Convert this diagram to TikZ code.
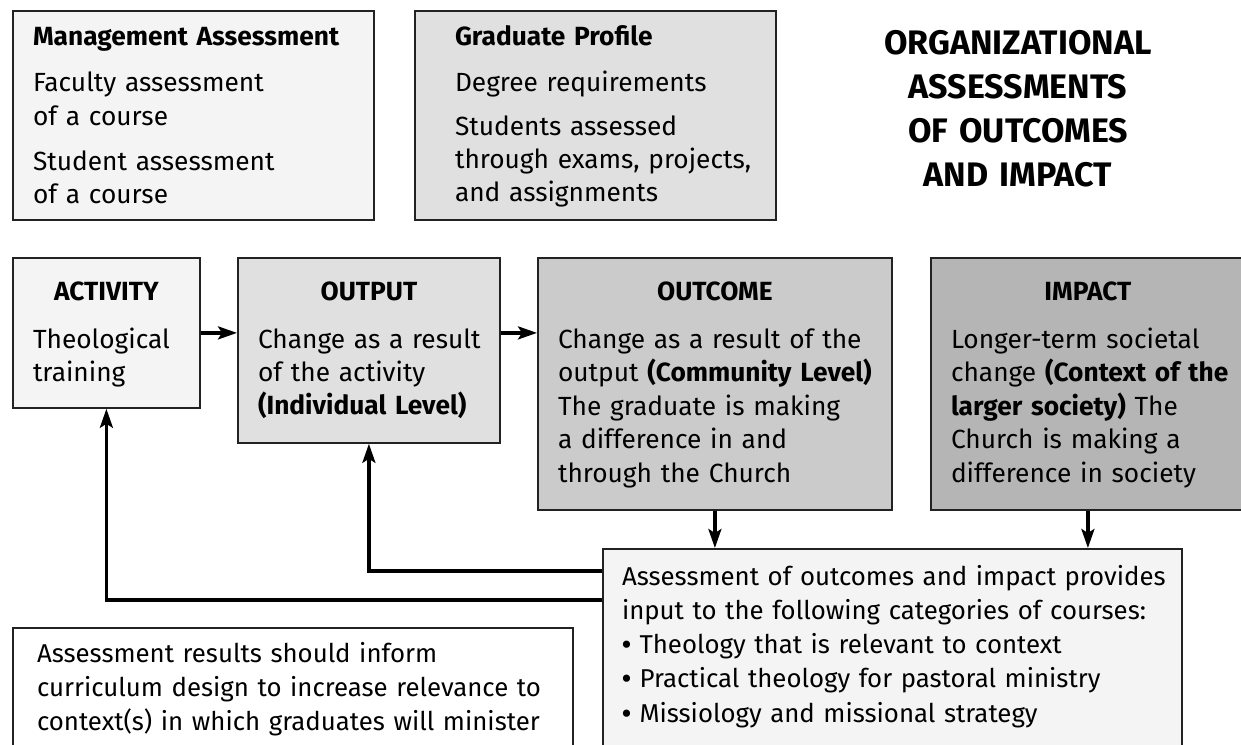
\documentclass[tikz,border=0pt]{standalone}
\usepackage{fontspec}
\setmainfont{Fira Sans}
\usetikzlibrary{arrows.meta}
\definecolor{fillA}{HTML}{F3F4F3}
\definecolor{fillB}{HTML}{E0E0E0}
\definecolor{fillC}{HTML}{CBCBCB}
\definecolor{fillD}{HTML}{B5B5B5}
\definecolor{edge}{HTML}{222222}
\tikzset{
  box/.style={draw=edge, line width=1.8pt, rectangle, inner sep=0pt, anchor=north west},
  txt/.style={anchor=base west, inner sep=0pt, outer sep=0pt, text width=600pt, align=left,
              font=\fontsize{26.3}{33}\selectfont},
  head/.style={anchor=base, inner sep=0pt, font=\fontsize{26.3}{33}\selectfont\bfseries},
  title/.style={anchor=base, inner sep=0pt, text width=500pt, align=center,
                font=\fontsize{34}{44}\selectfont\bfseries},
  conn/.style={draw=black, line width=3.2pt},
  arr/.style={conn, -{Stealth[length=19pt,width=13pt,inset=4pt]}},
}
\begin{document}
\begin{tikzpicture}[x=1pt,y=-1pt]
\useasboundingbox[fill=white] (0,0) rectangle (1241,744);

% top boxes
\node[box, fill=fillA, minimum width=361pt, minimum height=209pt] (mgmt) at (12,10) {};
\node[txt] (mgmtt) at (33,45) {\textbf{Management Assessment}\\[14pt]
Faculty assessment\\ of a course\\[12pt]
Student assessment\\ of a course};

\node[box, fill=fillB, minimum width=361pt, minimum height=209pt] (grad) at (414,10) {};
\node[txt] (gradt) at (455,45) {\textbf{Graduate Profile}\\[14pt]
Degree requirements\\[10pt]
Students assessed\\ through exams, projects,\\ and assignments};

\node[title] (ttl) at (1018,54) {ORGANIZATIONAL\\ ASSESSMENTS\\ OF OUTCOMES\\ AND IMPACT};

% main row
\node[box, fill=fillA, minimum width=187pt, minimum height=150pt] (activity) at (12,257) {};
\node[box, fill=fillB, minimum width=262pt, minimum height=185pt] (output) at (237,257) {};
\node[box, fill=fillC, minimum width=354pt, minimum height=252pt] (outcome) at (537,257) {};
\node[box, fill=fillD, minimum width=314pt, minimum height=252pt] (impact) at (930,257) {};

\node[head] (acth) at (activity.north |- 0,300) {ACTIVITY};
\node[head] (outh) at (output.north |- 0,300) {OUTPUT};
\node[head] (ocoh) at (outcome.north |- 0,300) {OUTCOME};
\node[head] (imph) at (impact.north |- 0,300) {IMPACT};

\node[txt] (actt) at (33,348) {Theological\\ training};
\node[txt] (outt) at (258,348) {Change as a result\\ of the activity\\ \textbf{(Individual Level)}};
\node[txt, font=\fontsize{26.3}{33.5}\selectfont] (ocot) at (558,348) {Change as a result of the\\ output \textbf{(Community Level)}\\ The graduate is making\\ a difference in and\\ through the Church};
\node[txt, font=\fontsize{26.3}{33.5}\selectfont] (impt) at (951,348) {Longer-term societal\\ change \textbf{(Context of the}\\ \textbf{larger society)} The\\ Church is making a\\ difference in society};

% bottom boxes
\node[box, fill=fillA, minimum width=579pt, minimum height=215pt] (assess) at (602,548) {};
\node[txt, font=\fontsize{25.8}{34.3}\selectfont] (asst) at (622,585) {Assessment of outcomes and impact provides\\ input to the following categories of courses:\\ \textbf{•} Theology that is relevant to context\\ \textbf{•} Practical theology for pastoral ministry\\ \textbf{•} Missiology and missional strategy};

\node[box, fill=white, minimum width=560pt, minimum height=140pt] (note) at (12,627) {};
\node[txt, font=\fontsize{25.8}{34}\selectfont] (notet) at (37,662) {Assessment results should inform\\ curriculum design to increase relevance to\\ context(s) in which graduates will minister};

% connectors
\draw[arr] (activity.east) -- (output.west |- activity.east);
\draw[arr] (output.east |- activity.east) -- (outcome.west |- activity.east);
\draw[arr] (outcome.south) -- (assess.north -| outcome.south);
\draw[arr] (impact.south) -- (assess.north -| impact.south);
\draw[arr] (assess.west |- 0,571) -| (output.south);
\draw[arr] (assess.west |- 0,600) -| (activity.south);
\end{tikzpicture}
\end{document}
